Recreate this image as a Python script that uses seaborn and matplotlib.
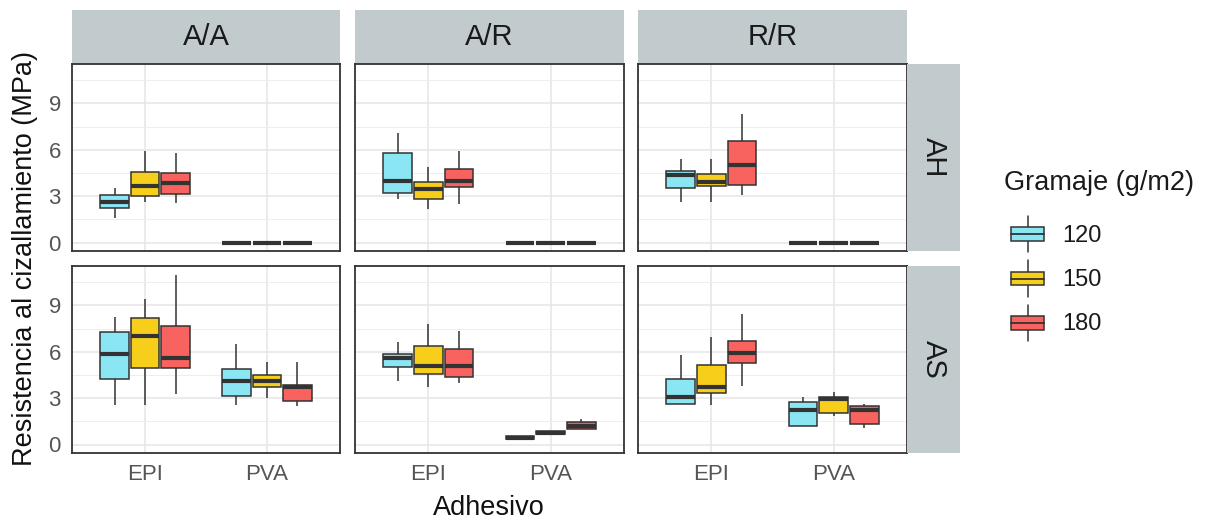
import numpy as np
import pandas as pd
import matplotlib
matplotlib.use("Agg")
import matplotlib.pyplot as plt
import seaborn as sns
from matplotlib.legend_handler import HandlerBase
from matplotlib.patches import Rectangle, Patch
from matplotlib.lines import Line2D

# categories
sustratos = ["A/A", "A/R", "R/R"]
tratamientos = ["AH", "AS"]
adhesivos = ["EPI", "PVA"]
gramajes = ["120", "150", "180"]
colores = ["#8BE6F4", "#F7CF1B", "#F8625F"]

# five-number summaries (min, q1, median, q3, max) for 120 / 150 / 180
AA_AH_EPI = [[1.61, 2.24, 2.63, 3.06, 3.55], [2.63, 3.01, 3.66, 4.57, 5.90], [2.58, 3.14, 3.88, 4.48, 5.81]]
AA_AH_PVA = [[0, 0, 0, 0, 0], [0, 0, 0, 0, 0], [0, 0, 0, 0, 0]]
AR_AH_EPI = [[2.80, 3.23, 3.96, 5.77, 7.10], [2.20, 2.82, 3.47, 3.94, 4.89], [2.52, 3.62, 3.96, 4.78, 5.90]]
AR_AH_PVA = [[0, 0, 0, 0, 0], [0, 0, 0, 0, 0], [0, 0, 0, 0, 0]]
RR_AH_EPI = [[2.63, 3.53, 4.39, 4.65, 5.38], [2.63, 3.66, 3.92, 4.44, 5.38], [3.10, 3.75, 5.00, 6.59, 8.31]]
RR_AH_PVA = [[0, 0, 0, 0, 0], [0, 0, 0, 0, 0], [0, 0, 0, 0, 0]]
AA_AS_EPI = [[2.58, 4.26, 5.88, 7.30, 8.25], [2.58, 4.95, 7.00, 8.18, 9.43], [3.25, 4.95, 5.60, 7.69, 11.00]]
AA_AS_PVA = [[2.54, 3.14, 4.09, 4.87, 6.50], [2.99, 3.75, 4.11, 4.48, 5.32], [2.50, 2.82, 3.73, 3.85, 5.32]]
AR_AS_EPI = [[4.11, 5.02, 5.60, 5.88, 6.63], [3.73, 4.57, 5.08, 6.37, 7.77], [4.00, 4.35, 5.08, 6.18, 7.34]]
AR_AS_PVA = [[0.30, 0.33, 0.43, 0.52, 0.55], [0.60, 0.65, 0.75, 0.85, 0.90], [0.99, 0.99, 1.20, 1.46, 1.64]]
RR_AS_EPI = [[2.63, 2.63, 3.08, 4.26, 5.81], [2.58, 3.32, 3.70, 5.17, 6.96], [3.79, 5.25, 5.92, 6.70, 8.46]]
RR_AS_PVA = [[1.21, 1.21, 2.24, 2.73, 3.08], [1.85, 2.02, 2.95, 3.06, 3.38], [1.10, 1.34, 2.22, 2.48, 2.60]]

tabla = {
    ("A/A", "AH"): (AA_AH_EPI, AA_AH_PVA), ("A/R", "AH"): (AR_AH_EPI, AR_AH_PVA), ("R/R", "AH"): (RR_AH_EPI, RR_AH_PVA),
    ("A/A", "AS"): (AA_AS_EPI, AA_AS_PVA), ("A/R", "AS"): (AR_AS_EPI, AR_AS_PVA), ("R/R", "AS"): (RR_AS_EPI, RR_AS_PVA),
}

rows = []
for (sus, tra), grupos in tabla.items():
    for adh, series in zip(adhesivos, grupos):
        for gr, vals in zip(gramajes, series):
            for v in vals:
                rows.append((sus, tra, adh, gr, v))
df = pd.DataFrame(rows, columns=["Sustrato", "Tratamiento", "Adhesivo", "Gramaje", "Resistencia"])

sns.set_style("white")
plt.rcParams["font.family"] = ["Liberation Sans", "DejaVu Sans"]

W, H = 1209, 522
fig = plt.figure(figsize=(W / 100, H / 100), dpi=100)

def rect(x0, y0, x1, y1):
    return [x0 / W, 1 - y1 / H, (x1 - x0) / W, (y1 - y0) / H]

col_px = [(72, 340), (355, 624), (638, 907)]
row_px = [(64, 251), (266, 453)]
strip_bg = "#C1CBCD"
tick_col = "#555555"
border = "#333333"

for j, sus in enumerate(sustratos):
    # top strip
    sax = fig.add_axes(rect(col_px[j][0], 10, col_px[j][1], 64))
    sax.set_facecolor(strip_bg)
    sax.set_xticks([]); sax.set_yticks([])
    for s in sax.spines.values():
        s.set_visible(False)
    sax.text(0.5, 0.5, sus, ha="center", va="center", fontsize=21, color="#1A1A1A", transform=sax.transAxes)

    for i, tra in enumerate(tratamientos):
        ax = fig.add_axes(rect(col_px[j][0], row_px[i][0], col_px[j][1], row_px[i][1]))
        sub = df[(df["Sustrato"] == sus) & (df["Tratamiento"] == tra)]
        ax.set_axisbelow(True)
        sns.boxplot(data=sub, x="Adhesivo", y="Resistencia", hue="Gramaje",
                    order=adhesivos, hue_order=gramajes, palette=colores, saturation=1,
                    whis=(0, 100), width=0.75, gap=0.06, linewidth=1.1,
                    linecolor=border, showfliers=False, showcaps=False, legend=False,
                    medianprops=dict(linewidth=3.0, color=border), ax=ax)
        ax.set_xlim(-0.6, 1.6)
        ax.set_ylim(-0.55, 11.55)
        ax.set_yticks([0, 3, 6, 9])
        ax.set_yticks([1.5, 4.5, 7.5, 10.5], minor=True)
        ax.grid(which="major", color="#E6E6E6", linewidth=1.1)
        ax.grid(which="minor", axis="y", color="#EEEEEE", linewidth=0.7)
        ax.tick_params(which="minor", length=0)
        ax.tick_params(which="major", colors=border, labelcolor=tick_col, labelsize=16, length=5, width=1, pad=3)
        for s in ax.spines.values():
            s.set_visible(True)
            s.set_color(border)
            s.set_linewidth(1.3)
        ax.set_xlabel(""); ax.set_ylabel("")
        if j > 0:
            ax.tick_params(axis="y", left=False, labelleft=False)
        if i == 0:
            ax.tick_params(axis="x", bottom=False, labelbottom=False)

for i, tra in enumerate(tratamientos):
    rax = fig.add_axes(rect(907, row_px[i][0], 960, row_px[i][1]))
    rax.set_facecolor(strip_bg)
    rax.set_xticks([]); rax.set_yticks([])
    for s in rax.spines.values():
        s.set_visible(False)
    rax.text(0.5, 0.5, tra, ha="center", va="center", rotation=-90, fontsize=21, color="#1A1A1A", transform=rax.transAxes)

fig.text(25 / W, 1 - 258 / H, "Resistencia al cizallamiento (MPa)", rotation=90, ha="center", va="center", fontsize=19.5, color="#111111")
fig.text(489 / W, 1 - 508 / H, "Adhesivo", ha="center", va="center", fontsize=19.5, color="#111111")


class BoxKey(HandlerBase):
    def create_artists(self, legend, orig_handle, xdescent, ydescent, width, height, fontsize, trans):
        fc = orig_handle.get_facecolor()
        x0, y0 = -xdescent, -ydescent
        bh = height * 0.38
        by = y0 + (height - bh) / 2
        cx = x0 + width / 2
        arts = [
            Line2D([cx, cx], [y0, by], color=border, lw=1.1),
            Line2D([cx, cx], [by + bh, y0 + height], color=border, lw=1.1),
            Rectangle((x0, by), width, bh, facecolor=fc, edgecolor=border, lw=1.1),
            Line2D([x0, x0 + width], [by + bh / 2, by + bh / 2], color=border, lw=1.3),
        ]
        for a in arts:
            a.set_transform(trans)
        return arts


fig.text(1004 / W, 1 - 183 / H, "Gramaje (g/m2)", ha="left", va="center", fontsize=19.5, color="#1A1A1A")
handles = [Patch(facecolor=c) for c in colores]
leg = fig.legend(handles, gramajes, loc="upper left",
                 bbox_to_anchor=(1011 / W, 1 - 216 / H), frameon=False,
                 fontsize=17, handlelength=1.4, handleheight=2.0,
                 handletextpad=0.76, labelspacing=0.33, borderpad=0, borderaxespad=0,
                 handler_map={Patch: BoxKey()})
for t in leg.get_texts():
    t.set_color("#1A1A1A")

fig.savefig("out.png", dpi=100, facecolor="white")
